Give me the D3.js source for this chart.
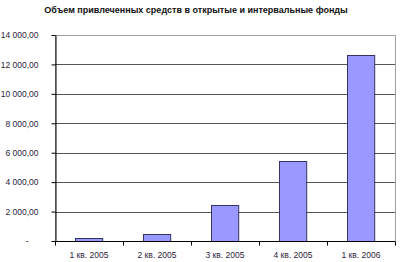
<!DOCTYPE html>
<html>
<head>
<meta charset="utf-8">
<script src="https://cdn.jsdelivr.net/npm/d3@7"></script>
<style>
  body { margin: 0; background: #fff; }
  svg { display: block; font-family: "Liberation Sans", Arial, sans-serif; }
</style>
</head>
<body>
<svg id="chart" width="400" height="262"></svg>
<script>
const width = 400;
const height = 262;
const marginTop = 35;
const marginRight = 5;
const marginBottom = 21;
const marginLeft = 55;

// Data
const quarters = ["1 кв. 2005", "2 кв. 2005", "3 кв. 2005", "4 кв. 2005", "1 кв. 2006"];
const amounts = [230, 460, 2450, 5430, 12660];
const yTicks = [0, 2000, 4000, 6000, 8000, 10000, 12000, 14000];
const yTickLabels = ["-", "2 000,00", "4 000,00", "6 000,00", "8 000,00", "10 000,00", "12 000,00", "14 000,00"];
const title = "Объем привлеченных средств в открытые и интервальные фонды";

const svg = d3.select("#chart");

const x = d3.scaleBand()
  .domain(quarters)
  .range([marginLeft, width - marginRight])
  .paddingInner(0.6)
  .paddingOuter(0.3);

const y = d3.scaleLinear()
  .domain([0, 14000])
  .range([height - marginBottom, marginTop]);

// Title
svg.append("text")
  .attr("x", 196)
  .attr("y", 13)
  .attr("text-anchor", "middle")
  .attr("font-size", "9px")
  .attr("font-weight", "bold")
  .attr("fill", "#111")
  .text(title);

// Plot area border (light grey top/right)
svg.append("rect")
  .attr("x", marginLeft)
  .attr("y", marginTop)
  .attr("width", width - marginRight - marginLeft)
  .attr("height", height - marginBottom - marginTop)
  .attr("fill", "#fff")
  .attr("stroke", "#a0a0a0")
  .attr("shape-rendering", "crispEdges");

// Gridlines
svg.append("g")
  .selectAll("line")
  .data(yTicks.slice(1, -1))
  .join("line")
  .attr("x1", marginLeft)
  .attr("x2", width - marginRight)
  .attr("y1", (d) => Math.round(y(d)) + 0.5)
  .attr("y2", (d) => Math.round(y(d)) + 0.5)
  .attr("stroke", "#555")
  .attr("stroke-width", 1);

// Bars
svg.append("g")
  .selectAll("rect")
  .data(amounts)
  .join("rect")
  .attr("x", (d, i) => Math.round(x(quarters[i])) + 0.5)
  .attr("y", (d) => Math.round(y(d)) + 0.5)
  .attr("width", x.bandwidth())
  .attr("height", (d) => Math.round(y(0)) - Math.round(y(d)))
  .attr("fill", "#9999ff")
  .attr("stroke", "#333366")
  .attr("stroke-width", 1);

// Y axis
const yAxis = svg.append("g")
  .attr("transform", `translate(${marginLeft + 0.5},0)`)
  .call(d3.axisLeft(y)
    .tickValues(yTicks)
    .tickFormat((d, i) => yTickLabels[i])
    .tickSize(4)
    .tickPadding(13)
    .tickSizeOuter(0));
yAxis.select(".domain").attr("stroke", "#000");
yAxis.selectAll(".tick line").attr("stroke", "#000");
yAxis.selectAll(".tick text")
  .attr("font-size", "8.5px")
  .attr("fill", "#2a2440")
  .attr("font-family", "\"Liberation Sans\", Arial, sans-serif");
yAxis.selectAll(".tick").filter((d) => d === 0).select("text").attr("dx", -10);

// X axis with ticks between categories
const xAxis = svg.append("g")
  .attr("transform", `translate(0,${Math.round(y(0)) + 0.5})`);
xAxis.append("line")
  .attr("x1", marginLeft)
  .attr("x2", width - marginRight)
  .attr("stroke", "#000");
xAxis.selectAll(".sep")
  .data(d3.range(quarters.length + 1))
  .join("line")
  .attr("class", "sep")
  .attr("x1", (i) => Math.round(marginLeft + i * (width - marginRight - marginLeft) / quarters.length) + 0.5)
  .attr("x2", (i) => Math.round(marginLeft + i * (width - marginRight - marginLeft) / quarters.length) + 0.5)
  .attr("y1", 0)
  .attr("y2", 4)
  .attr("stroke", "#000");
xAxis.selectAll(".lbl")
  .data(quarters)
  .join("text")
  .attr("class", "lbl")
  .attr("x", (d) => x(d) + x.bandwidth() / 2)
  .attr("y", 16)
  .attr("text-anchor", "middle")
  .attr("font-size", "8.5px")
  .attr("fill", "#2a2440")
  .text((d) => d);
</script>
</body>
</html>
